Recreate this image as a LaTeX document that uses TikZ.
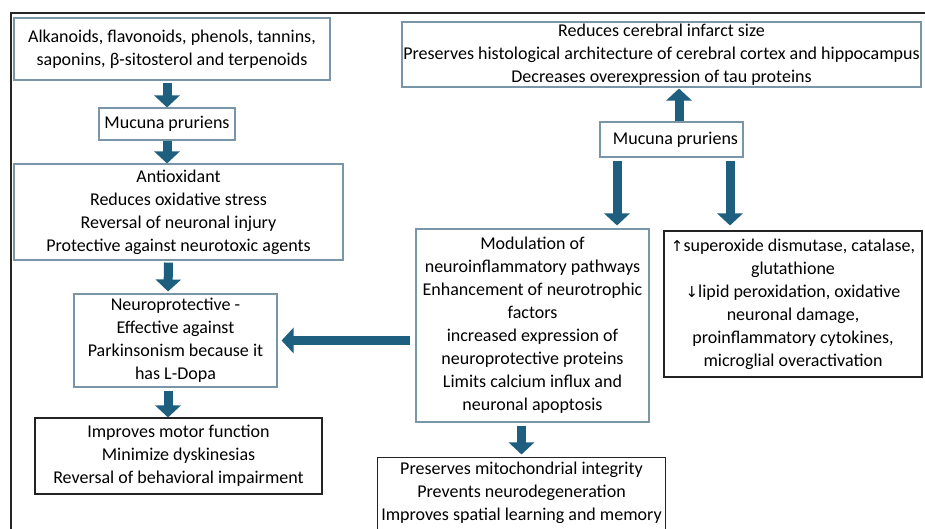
\documentclass[tikz,border=0pt]{standalone}
\usepackage{fontspec}
\setmainfont{Carlito}
\newfontfamily\dejavu{DejaVu Sans}
\usetikzlibrary{arrows.meta,calc}
\definecolor{arrowblue}{RGB}{30,94,126}
\definecolor{boxgray}{RGB}{120,150,168}
\definecolor{boxdark}{RGB}{35,35,35}
\begin{document}
\begin{tikzpicture}[x=1pt,y=-1pt,
  box/.style={draw=boxgray, line width=1.1pt, fill=white, align=center, inner sep=0pt,
    font=\fontsize{18}{23}\selectfont, text=black},
  dbox/.style={box, draw=boxdark},
  barrow/.style={draw=arrowblue, line width=9pt, -{Triangle[width=25pt,length=12pt]}}]
\useasboundingbox (0,0) rectangle (925,529);
\fill[white] (0,0) rectangle (925,529);
\draw[line width=1.2pt, black!85] (11,540) -- (11,13) -- (935,13);

\node[box, minimum width=316pt, minimum height=62pt] (A) at (172,49)
  {Alkanoids, flavonoids, phenols, tannins,\\saponins, β-sitosterol and terpenoids};
\node[box, minimum width=136pt, minimum height=32pt] (M1) at (167,124) {Mucuna pruriens};
\node[box, minimum width=329pt, minimum height=96pt] (AO) at (178.5,212)
  {Antioxidant\\Reduces oxidative stress\\Reversal of neuronal injury\\Protective against neurotoxic agents};
\node[box, minimum width=203pt, minimum height=93pt] (NP) at (175.5,340.5)
  {Neuroprotective -\\Effective against\\Parkinsonism because it\\has L-Dopa};
\node[dbox, minimum width=287pt, minimum height=76pt] (MO) at (178.5,456)
  {Improves motor function\\Minimize dyskinesias\\Reversal of behavioral impairment};

\node[box, minimum width=519pt, minimum height=65pt] (TR) at (661.5,54.5)
  {Reduces cerebral infarct size\\Preserves histological architecture of cerebral cortex and hippocampus\\Decreases overexpression of tau proteins};
\node[box, minimum width=143pt, minimum height=35pt] (M2) at (671.5,139.5) {\hspace{8pt}Mucuna pruriens};
\node[box, minimum width=233pt, minimum height=193pt] (MD) at (532.5,325.5)
  {Modulation of\\neuroinflammatory pathways\\Enhancement of neurotrophic\\factors\\increased expression of\\neuroprotective proteins\\Limits calcium influx and\\neuronal apoptosis};
\node[dbox, minimum width=258pt, minimum height=146pt] (RB) at (793,304)
  {{\dejavu\fontsize{15}{23}\selectfont ↑}superoxide dismutase, catalase,\\glutathione\\{\dejavu\fontsize{15}{23}\selectfont ↓}lipid peroxidation, oxidative\\neuronal damage,\\proinflammatory cytokines,\\microglial overactivation};
\node[box, draw=none, fill=none, minimum width=287pt, minimum height=69pt] (MI) at (521.5,492.5)
  {Preserves mitochondrial integrity\\Prevents neurodegeneration\\Improves spatial learning and memory};
\draw[boxdark, line width=1.1pt] ($(MI.south west)+(0,15)$) -- (MI.north west) -- (MI.north east) -- ($(MI.south east)+(0,15)$);

% arrows
\draw[barrow, shorten <=2pt] (M1.north |- A.south) -- (M1.north);
\draw[barrow] (M1.south) -- (M1.south |- AO.north);
\draw[barrow, shorten <=2pt, shorten >=2pt] ([xshift=-10pt]AO.south) -- ([xshift=-7.5pt]NP.north);
\draw[barrow, shorten <=3pt] ([xshift=-7.5pt]NP.south) -- ([xshift=-10.5pt]MO.north);
\draw[barrow, shorten <=5pt, shorten >=4pt] (MD.west |- NP.east) -- (NP.east);
\draw[barrow, shorten <=3pt, shorten >=3pt] (MI.north |- MD.south) -- (MI.north);
\draw[barrow, shorten >=1pt] ([xshift=7.5pt]M2.north) -- ([xshift=7.5pt]M2.north |- TR.south);
\draw[barrow, shorten <=3pt, shorten >=3pt] ([xshift=-54.5pt]M2.south) -- ([xshift=-54.5pt]M2.south |- MD.north);
\draw[barrow, shorten <=3pt, shorten >=5pt] ([xshift=58.5pt]M2.south) -- ([xshift=58.5pt]M2.south |- RB.north);
\end{tikzpicture}
\end{document}
